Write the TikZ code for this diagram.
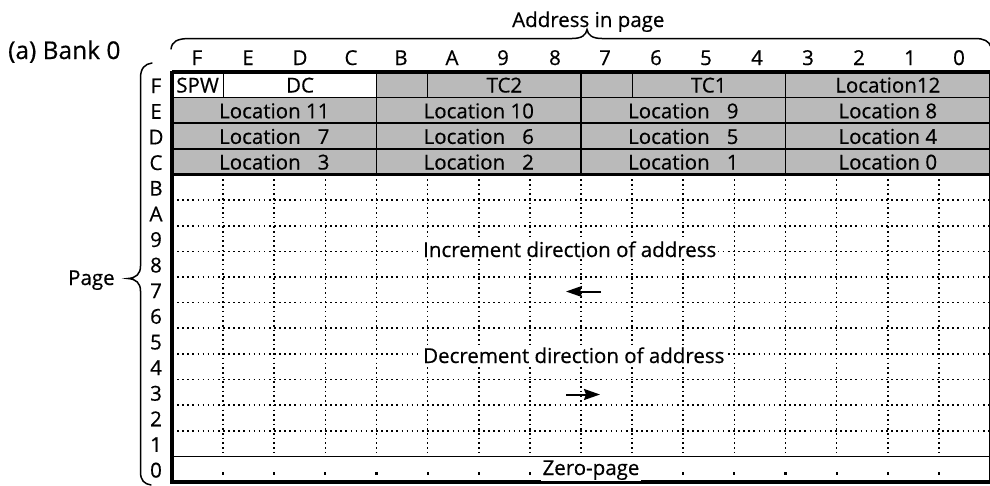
\documentclass[tikz,border=0pt]{standalone}
\usepackage{fontspec}
\setmainfont{Open Sans}[FakeBold=0.5]
\usetikzlibrary{arrows.meta}
\begin{document}
\begin{tikzpicture}[x=1pt,y=-1pt,
  txt/.style={font=\fontsize{20.5}{24}\selectfont, inner sep=0pt, anchor=base},
  big/.style={font=\fontsize{24.5}{28}\selectfont, inner sep=0pt, anchor=base west},
  halftone/.style={fill=black!27},
  rule/.style={line width=1.6pt},
  thinrule/.style={line width=1.1pt},
  outer/.style={line width=3.5pt},
  doth/.style={line width=1.6pt, dash pattern=on 1.6pt off 3.5pt},
  dotv/.style={line width=1.6pt, dash pattern=on 1.6pt off 3.1pt},
  onwhite/.style={fill=white, inner xsep=2pt, inner ysep=2pt},
  brace/.style={line width=1.5pt, line cap=round},
  arr/.style={line width=2pt, -{Stealth[length=16pt,width=11pt,inset=2pt]}}]
\useasboundingbox (0,0) rectangle (990,485);
\def\cw{51.125}
\def\rh{25.625}
% shaded top rows
\fill[halftone] (172,72) rectangle (990,174.5);
\fill[white] (172,72) rectangle (376.5,97.6);
% dotted grid
\foreach \j in {5,...,14} \draw[doth] (172,72+\j*\rh) -- (990,72+\j*\rh);
\foreach \k in {1,...,15} \draw[dotv] (172+\k*\cw,174.5) -- (172+\k*\cw,456.4);
% dots in zero page row
\foreach \k in {1,...,15} \fill (172+\k*\cw-1.1,471.5) rectangle (172+\k*\cw+1.1,474.8);
% solid rules of the top rows
\foreach \j in {1,2,3} \draw[rule] (172,72+\j*\rh) -- (990,72+\j*\rh);
\draw[line width=2.2pt] (172,174.5) -- (990,174.5);
\foreach \k in {4,8,12} \draw[rule] (172+\k*\cw,72) -- (172+\k*\cw,174.5);
\draw[thinrule] (223.1,72) -- (223.1,97.6);
\draw[thinrule] (427.6,72) -- (427.6,97.6);
\draw[thinrule] (632.1,72) -- (632.1,97.6);
\draw[rule] (172,456.4) -- (990,456.4);
% outer frame
\draw[line width=0.8pt] (989.6,72) -- (989.6,482);
\draw[outer] (172,72) -- (990,72);
\draw[outer] (172,70.5) -- (172,483.5);
\draw[line width=4pt] (170.5,482) -- (990,482);
% cell texts
\node[txt] (spw) at (197.6,92.5) {SPW};
\node[txt] (dc) at (300,92.5) {DC};
\node[txt] (tc2) at (504.4,92.5) {TC2};
\node[txt] (tc1) at (708.7,92.5) {TC1};
\node[txt] (l12) at (887.8,92.5) {Location12};
\node[txt] (l11) at (274.3,118.3) {Location 11};
\node[txt] (l10) at (478.8,118.3) {Location 10};
\node[txt] (l9) at (683.3,118.3) {Location \hphantom{1}9};
\node[txt] (l8) at (887.8,118.3) {Location 8};
\node[txt] (l7) at (274.3,143.9) {Location \hphantom{1}7};
\node[txt] (l6) at (478.8,143.9) {Location \hphantom{1}6};
\node[txt] (l5) at (683.3,143.9) {Location \hphantom{1}5};
\node[txt] (l4) at (887.8,143.9) {Location 4};
\node[txt] (l3) at (274.3,169.5) {Location \hphantom{1}3};
\node[txt] (l2) at (478.8,169.5) {Location \hphantom{1}2};
\node[txt] (l1) at (683.3,169.5) {Location \hphantom{1}1};
\node[txt] (l0) at (887.8,169.5) {Location 0};
% column labels
\foreach \c/\x [count=\i] in {F/197,E/248,D/300,C/351,B/401,A/452,9/503,8/555,7/605,6/656,5/706,4/757,3/808,2/859,1/910,0/959}
  \node[txt] (col\i) at (\x,65) {\c};
% row labels
\foreach \r [count=\i] in {F,E,D,C,B,A,9,8,7,6,5,4,3,2,1,0}
  \node[txt] (row\i) at (156,72+\i*\rh-4.5) {\r};
% in-grid labels
\node[txt, anchor=base west, onwhite] (inc) at (421,257) {Increment direction of address};
\node[txt, anchor=base west, onwhite] (dec) at (421,363) {Decrement direction of address};
\node[txt, onwhite, inner ysep=1pt] (zero) at (591,475) {Zero-page};
% arrows
\coordinate (ia) at (601,291.5);
\coordinate (ib) at (566,291.5);
\coordinate (da) at (566,394.5);
\coordinate (db) at (600,394.5);
\draw[arr] (ia) -- (ib);
\draw[arr] (da) -- (db);
% headings
\node[big] (bank) at (8,59) {(a) Bank 0};
\node[txt, anchor=base west] (addr) at (512,27) {Address in page};
\node[txt, anchor=base west] (page) at (68,285) {Page};
% braces
\draw[brace] (171,49) .. controls (172,41.5) and (177,38.5) .. (190,38.5) -- (572,38.5)
  .. controls (582,38.5) and (586,35) .. (587,29.5)
  .. controls (588,35) and (592,38.5) .. (602,38.5) -- (975,38.5)
  .. controls (984,38.5) and (989,41) .. (991,47);
\draw[brace] (152,63) .. controls (145,64) and (140.5,68) .. (140.5,78) -- (140.5,266)
  .. controls (140.5,274) and (136,278) .. (128,278.5)
  .. controls (136,279) and (140.5,283) .. (140.5,291) -- (140.5,472)
  .. controls (140.5,480) and (144,484) .. (151,485);
\end{tikzpicture}
\end{document}
